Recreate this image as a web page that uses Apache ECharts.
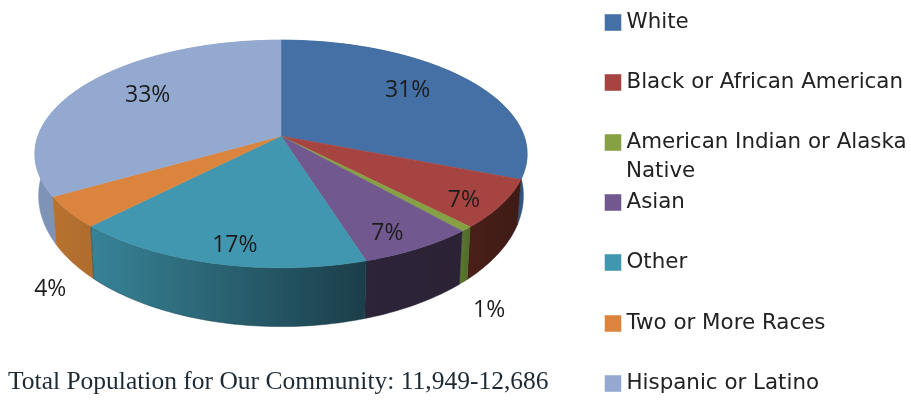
<!DOCTYPE html>
<html><head><meta charset="utf-8">
<style>html,body{margin:0;padding:0;background:#fff}#c{width:911px;height:400px;filter:blur(0.6px)}</style>
<script src="https://cdn.jsdelivr.net/npm/echarts@6/dist/echarts.min.js"></script>
</head><body><div id="c"></div>
<script>
const categories = ['White','Black or African American','American Indian or Alaska Native','Asian','Other','Two or More Races','Hispanic or Latino'];
const values = [31, 6.9, 0.7, 6.6, 17, 4.4, 33.4];
const labels = ['31%','7%','1%','7%','17%','4%','33%'];
const topColors = ['#4470A6','#A64441','#86A044','#71588F','#4197AF','#DB843D','#93A9CF'];
const sideColors = [['#2F5583','#2F5583'],['#4A1F18','#3E1B17'],['#5B7A2F','#4F6A2A'],['#2E2439','#2B2236'],['#378397','#1B3E49'],['#B8722F','#AE6C2E'],['#7F93B6','#7F93B6']];
const labelOffsets = [[-58,12],[-38,-4],[23,81],[-31,-15],[20,-18],[-19,77],[62,11]];
const legendTops = [12,72,132,192,252,313,373];
const sideOrder = [0,6,1,5,2,3,4];

const total = values.reduce((a,b)=>a+b,0);
const starts = []; values.reduce((s,v,i)=>{starts[i]=s;return s+v;},0);
const G = {cx:281,cy:136,A:243,B:111,k:0.158,cy2:175,sx:0.985,sy:1.15};
function proj(t,r,bottom){
  const u=r*Math.sin(t), v=-r*Math.cos(t), d=1-G.k*v;
  if(bottom) return [G.cx+G.sx*G.A*u/d, G.cy2+G.sy*G.B*v/d];
  return [G.cx+G.A*u/d, G.cy+G.B*v/d];
}
function ang(p){return p/total*Math.PI*2;}
function arc(i,bottom){
  const a=ang(starts[i]), b=ang(starts[i]+values[i]), n=Math.max(4,Math.ceil((b-a)/0.02)), pts=[];
  for(let j=0;j<=n;j++) pts.push(proj(a+(b-a)*j/n,1,bottom));
  return pts;
}
function renderSide(params){
  const i=sideOrder[params.dataIndex];
  const pts=arc(i,false).concat(arc(i,true).reverse());
  return {type:'polygon',shape:{points:pts},style:{
    fill:new echarts.graphic.LinearGradient(0,0,1,0,[{offset:0,color:sideColors[i][0]},{offset:1,color:sideColors[i][1]}]),
    stroke:sideColors[i][1],lineWidth:0.5},silent:true};
}
function renderTop(i){
  return function(){
    const pts=[proj(0,0,false)].concat(arc(i,false));
    return {type:'polygon',shape:{points:pts},style:{fill:topColors[i],stroke:topColors[i],lineWidth:0.5}};
  };
}
function renderLabel(params){
  const i=params.dataIndex;
  const mid=ang(starts[i]+values[i]/2), p=proj(mid,1,false);
  return {type:'text',style:{text:labels[i],x:p[0]+labelOffsets[i][0],y:p[1]+labelOffsets[i][1],
    align:'center',verticalAlign:'middle',font:'23px "Open Sans"',fill:'#1c1c1c'},silent:true};
}
const series=[{type:'custom',name:'side',coordinateSystem:'none',z:1,silent:true,data:sideOrder.map(i=>values[i]),renderItem:renderSide}];
categories.forEach((c,i)=>series.push({type:'custom',name:c,coordinateSystem:'none',z:2,itemStyle:{color:topColors[i]},data:[values[i]],renderItem:renderTop(i)}));
series.push({type:'custom',name:'label',coordinateSystem:'none',z:3,silent:true,data:values,renderItem:renderLabel});
const legendFont={fontFamily:'DejaVu Sans',fontSize:21.4,color:'#222'};
const chart=echarts.init(document.getElementById('c'),null,{renderer:'canvas'});
chart.setOption({
  animation:false,backgroundColor:'#fff',
  legend:categories.map((c,i)=>({data:[c],left:604,top:legendTops[i],orient:'vertical',icon:'rect',itemWidth:17,itemHeight:17,itemGap:0,padding:0,selectedMode:false,
    formatter:n=>n.replace(' Native',''),textStyle:legendFont,itemStyle:{borderColor:'rgba(255,255,255,0.45)',borderWidth:1}})),
  graphic:[
    {type:'text',left:626,top:161,style:{text:'Native',font:'21.4px "DejaVu Sans"',fill:'#222'}},
    {type:'text',left:8,top:369,style:{text:'Total Population for Our Community: 11,949-12,686',font:'25.5px "Liberation Serif"',fill:'#1d2a33'}}
  ],
  series
});
</script></body></html>
